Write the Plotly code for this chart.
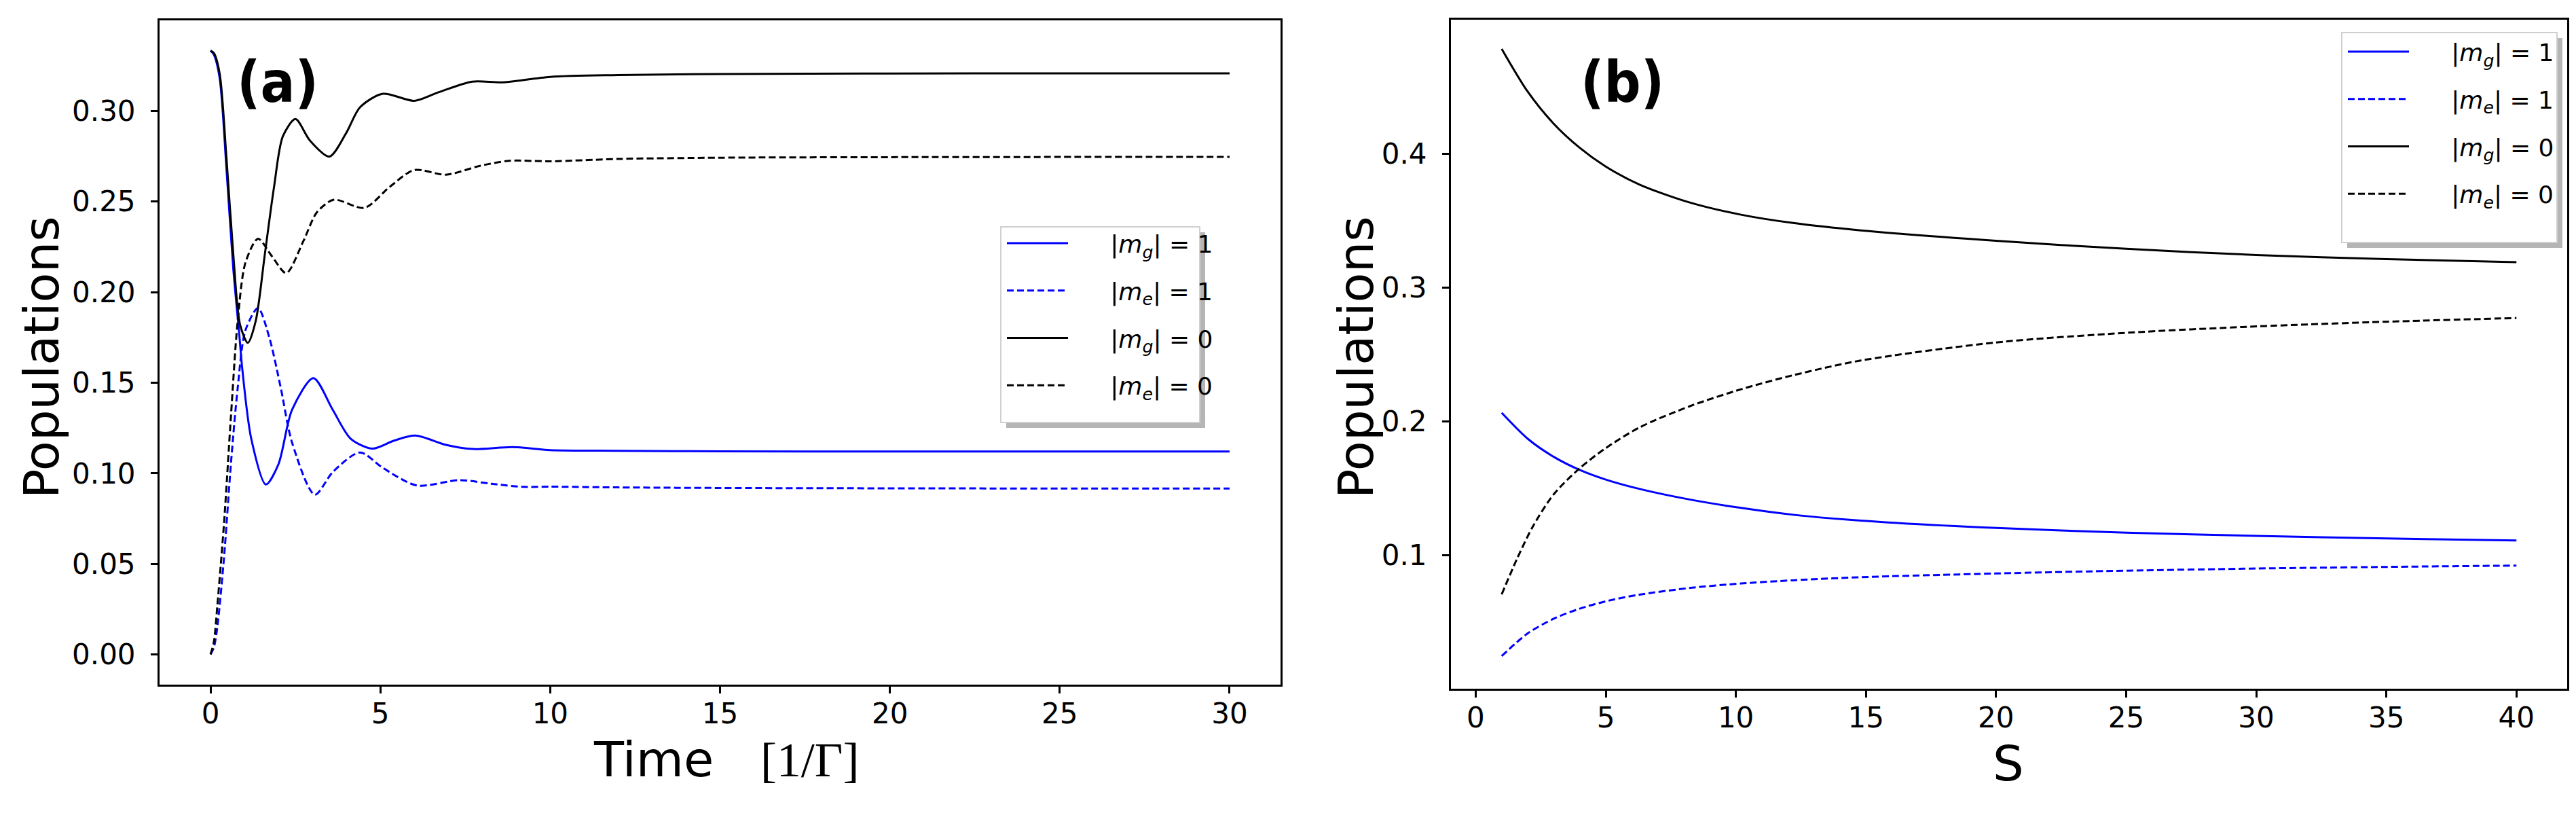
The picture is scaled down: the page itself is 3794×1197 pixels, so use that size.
import plotly.graph_objects as go
from plotly.subplots import make_subplots

# ---- panel (a): populations vs time ----
t_mg1 = [0, 0.1, 0.27, 0.47, 0.67, 0.85, 0.93, 1.2, 1.63, 2.0, 2.4, 3.03, 3.6, 4.13, 4.77, 5.4,
         6.03, 6.93, 7.73, 8.9, 10, 12, 15, 20, 25, 30]
mg1_a = [0.3333, 0.331, 0.318, 0.268, 0.213, 0.176, 0.1586, 0.119, 0.0938, 0.105, 0.135, 0.1525,
         0.135, 0.119, 0.1136, 0.118, 0.1208, 0.1157, 0.1134, 0.1145, 0.1128, 0.1124, 0.1121,
         0.112, 0.112, 0.112]

t_me1 = [0, 0.1, 0.2, 0.4, 0.6, 0.8, 1.03, 1.4, 1.73, 2.07, 2.4, 3.07, 3.6, 4.4, 5.07, 6.07,
         7.33, 8.27, 9.2, 10, 12, 15, 20, 25, 30]
me1_a = [0, 0.004, 0.015, 0.054, 0.105, 0.147, 0.179, 0.1912, 0.175, 0.147, 0.117, 0.0882,
         0.1007, 0.1115, 0.103, 0.0933, 0.0962, 0.0942, 0.0925, 0.0926, 0.0922, 0.0919, 0.0917,
         0.0916, 0.0916]

t_mg0 = [0, 0.1, 0.27, 0.47, 0.67, 0.87, 1.1, 1.33, 1.6, 1.87, 2.13, 2.5, 2.93, 3.5, 4.0, 4.4,
         5.07, 6.0, 6.67, 7.7, 8.6, 10, 12, 15, 20, 25, 30]
mg0_a = [0.3333, 0.332, 0.3206, 0.274, 0.221, 0.182, 0.172, 0.184, 0.221, 0.258, 0.286, 0.2955,
         0.2836, 0.2748, 0.288, 0.302, 0.3095, 0.3056, 0.310, 0.3162, 0.3158, 0.3188, 0.3198,
         0.3204, 0.3207, 0.3208, 0.3208]

t_me0 = [0, 0.1, 0.2, 0.4, 0.6, 0.8, 1.03, 1.4, 1.8, 2.23, 2.73, 3.13, 3.63, 4.53, 5.27, 6.0,
         6.93, 7.93, 8.8, 10, 12, 15, 20, 25, 30]
me0_a = [0, 0.007, 0.0266, 0.073, 0.131, 0.184, 0.2164, 0.2295, 0.22, 0.2105, 0.228, 0.244,
         0.251, 0.2465, 0.258, 0.2674, 0.2648, 0.2697, 0.2725, 0.2722, 0.2735, 0.2742, 0.2745,
         0.2746, 0.2746]

# ---- panel (b): populations vs S ----
s_pts = [1, 2, 3, 4, 5, 6.3, 8.25, 10.2, 12.2, 14.8, 20, 25, 30, 35, 40]
mg0_b = [0.4785, 0.4465, 0.4225, 0.4045, 0.3905, 0.377, 0.3635, 0.3545, 0.3483, 0.3428, 0.335,
         0.329, 0.3244, 0.3213, 0.319]
mg1_b = [0.2064, 0.187, 0.1735, 0.1637, 0.1565, 0.1495, 0.1415, 0.1353, 0.1302, 0.1258, 0.1203,
         0.1168, 0.1144, 0.1125, 0.111]
me1_b = [0.0246, 0.0415, 0.0525, 0.0600, 0.0655, 0.0705, 0.0755, 0.0788, 0.0812, 0.0835, 0.0863,
         0.0884, 0.090, 0.0912, 0.0922]
s_me0 = [1, 1.6, 2.2, 3, 4, 5, 6.3, 8.25, 10.2, 12.2, 14.8, 20, 25, 30, 35, 40]
me0_b = [0.0707, 0.0977, 0.1215, 0.1455, 0.165, 0.18, 0.1955, 0.2115, 0.224, 0.2345, 0.2455,
         0.259, 0.2662, 0.271, 0.2745, 0.2773]

labels = ["|<i>m</i><sub><i>g</i></sub>| = 1", "|<i>m</i><sub><i>e</i></sub>| = 1",
          "|<i>m</i><sub><i>g</i></sub>| = 0", "|<i>m</i><sub><i>e</i></sub>| = 0"]
colors = ["#0000ff", "#0000ff", "#000000", "#000000"]
dashes = ["solid", "10px,5px", "solid", "10px,5px"]

W, H = 3794, 1197
FONT = "DejaVu Sans"
PAD = "&nbsp;" * 5  # pushes legend text away from the line sample

fig = make_subplots(rows=1, cols=2)

left = [(t_mg1, mg1_a), (t_me1, me1_a), (t_mg0, mg0_a), (t_me0, me0_a)]
right = [(s_pts, mg1_b), (s_pts, me1_b), (s_pts, mg0_b), (s_me0, me0_b)]

for i, (xx, yy) in enumerate(left):
    fig.add_trace(go.Scatter(x=xx, y=yy, mode="lines", name=PAD + labels[i],
                             legend="legend", legendgroup="a%d" % i,
                             line=dict(color=colors[i], width=3, dash=dashes[i],
                                       shape="spline", smoothing=0.8)), row=1, col=1)
for i, (xx, yy) in enumerate(right):
    fig.add_trace(go.Scatter(x=xx, y=yy, mode="lines", name=PAD + labels[i],
                             legend="legend2", legendgroup="b%d" % i,
                             line=dict(color=colors[i], width=3, dash=dashes[i],
                                       shape="spline", smoothing=0.8)), row=1, col=2)

axis_style = dict(showline=True, linecolor="black", linewidth=3, mirror=True,
                  ticks="outside", ticklen=10, tickwidth=2.5, tickcolor="black",
                  showgrid=False, zeroline=False, automargin=False,
                  tickfont=dict(family=FONT, size=42, color="black"))

fig.update_xaxes(axis_style)
fig.update_yaxes(axis_style)
fig.update_xaxes(domain=[227 / W, 1878 / W], range=[-1.5, 31.5], tickvals=[0, 5, 10, 15, 20, 25, 30],
                 ticklabelstandoff=-6, row=1, col=1)
fig.update_yaxes(domain=[1 - 1000 / H, 1 - 22 / H], range=[-0.01667, 0.35],
                 tickvals=[0, 0.05, 0.1, 0.15, 0.2, 0.25, 0.3], tickformat=".2f",
                 ticklabelstandoff=14, row=1, col=1)
fig.update_xaxes(domain=[2129 / W, 3773 / W], range=[-0.95, 41.95],
                 tickvals=[0, 5, 10, 15, 20, 25, 30, 35, 40], ticklabelstandoff=-6, row=1, col=2)
fig.update_yaxes(domain=[1 - 1006 / H, 1 - 20.5 / H], range=[0.00015, 0.50055],
                 tickvals=[0.1, 0.2, 0.3, 0.4], tickformat=".1f",
                 ticklabelstandoff=14, row=1, col=2)

# legend boxes with matplotlib-like shadow
shapes = []
for (x0, y0, x1, y1) in [(1466, 326, 1759, 614), (3441, 40, 3758, 349)]:
    shapes.append(dict(type="rect", xref="paper", yref="paper",
                       x0=(x0 + 8) / W, x1=(x1 + 8) / W, y0=1 - (y1 + 8) / H, y1=1 - (y0 + 8) / H,
                       fillcolor="rgba(120,120,120,0.55)", line=dict(width=0)))
    shapes.append(dict(type="rect", xref="paper", yref="paper",
                       x0=x0 / W, x1=x1 / W, y0=1 - y1 / H, y1=1 - y0 / H,
                       fillcolor="white", line=dict(color="#d0d0d0", width=2)))

legend_style = dict(font=dict(family=FONT, size=36, color="black"), bgcolor="rgba(0,0,0,0)",
                    borderwidth=0, tracegroupgap=20, itemwidth=90, xanchor="left", yanchor="top")


def note(text, xp, yp, size, angle=0, family=FONT):
    return dict(text=text, x=xp / W, y=1 - yp / H, xref="paper", yref="paper",
                xanchor="center", yanchor="middle", textangle=angle, showarrow=False,
                font=dict(family=family, size=size, color="black"))


bold_font = "Liberation Sans Narrow, DejaVu Sans Condensed, DejaVu Sans"
ann = [
    note("<b>(a)</b>", 401, 113, 84, family=bold_font),
    note("<b>(b)</b>", 2381, 113, 84, family=bold_font),
    note("Populations", 53, 518, 72, angle=-90),
    note("Populations", 1989, 518, 72, angle=-90),
    note("Time&nbsp;&nbsp;&nbsp;<span style='font-family:Liberation Serif'>[1/Γ]</span>",
         1061, 1110, 72),
    note("S", 2950, 1116, 72),
]

fig.update_layout(
    width=W, height=H, margin=dict(l=0, r=0, t=0, b=0),
    paper_bgcolor="white", plot_bgcolor="white",
    shapes=shapes, annotations=ann,
    legend=dict(legend_style, x=1470 / W, y=1 - 320 / H),
    legend2=dict(legend_style, x=3445 / W, y=1 - 38 / H),
)

fig.write_html("out.html")
